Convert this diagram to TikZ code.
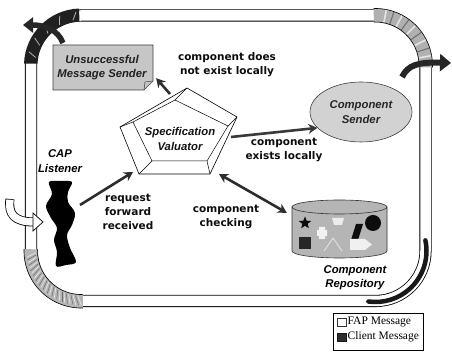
\documentclass[tikz,border=0pt]{standalone}
\usepackage{fontspec}
\setmainfont{Liberation Sans}
\newfontfamily\lblfont{DejaVu Sans}
\newfontfamily\legfont{Liberation Serif}
\usetikzlibrary{arrows.meta,shapes.geometric,shapes.symbols,calc}

\tikzset{
  flow/.style={draw=gray!35!black, line width=2.6pt, -{Stealth[length=9pt,width=10pt]}},
  twoway/.style={draw=gray!35!black, line width=2.6pt, {Stealth[length=9pt,width=10pt]}-{Stealth[length=9pt,width=10pt]}},
  lbl/.style={font=\lblfont\bfseries\fontsize{10.5}{14}\selectfont, text=gray!10!black, align=center, inner sep=0pt},
  comptext/.style={font=\bfseries\itshape\fontsize{11.3}{14.5}\selectfont, align=center, inner sep=0pt},
  bandedge/.style={draw=black, line width=0.6pt},
  legtext/.style={font=\legfont\fontsize{11.5}{12}\selectfont, anchor=west, inner sep=0pt},
}

\begin{document}
\begin{tikzpicture}[x=1pt,y=1pt]
\useasboundingbox (0,0) rectangle (452,352);
\fill[white] (0,0) rectangle (452,352);

% double-lined frame, corners of radius 50 round the four corner centres
\draw[line width=0.8pt, double=white, double distance=10.5pt]
  (81,336.5) -- (375.5,336.5) arc[start angle=90,end angle=0,radius=50]
  -- (425.5,101) arc[start angle=0,end angle=-90,radius=50]
  -- (81,51) arc[start angle=270,end angle=180,radius=50]
  -- (31,286.5) arc[start angle=180,end angle=90,radius=50] -- cycle;

% top-right corner band (striped)
\fill[gray!62] (375.5,286.5) ++(92:57) arc[start angle=92,end angle=-2,radius=57]
  -- ++(180:13.5) arc[start angle=-2,end angle=92,radius=43.5] -- cycle;
\foreach \a in {10,27,45,62,79}
  \draw[gray!20, line width=1.6pt] (375.5,286.5) ++(\a:44) -- ++(\a:12.5);
\foreach \a in {18,36,54,71}
  \draw[gray!85!black, line width=1pt] (375.5,286.5) ++(\a:44) -- ++(\a:12.5);
\draw[bandedge] (375.5,286.5) ++(92:57) arc[start angle=92,end angle=-2,radius=57];
\draw[bandedge] (375.5,286.5) ++(92:43.5) arc[start angle=92,end angle=-2,radius=43.5];

% bottom-left corner band (hatched)
\fill[gray!58] (81,101) ++(178:57) arc[start angle=178,end angle=272,radius=57]
  -- ++(90:13.5) arc[start angle=272,end angle=178,radius=43.5] -- cycle;
\foreach \a in {182,188,...,268}
  \draw[gray!20, line width=0.7pt] (81,101) ++(\a:45) -- ++(\a+25:10);
\foreach \a in {185,191,...,268}
  \draw[gray!85!black, line width=0.5pt] (81,101) ++(\a:45) -- ++(\a+25:10);
\draw[bandedge] (81,101) ++(178:57) arc[start angle=178,end angle=272,radius=57];
\draw[bandedge] (81,101) ++(178:43.5) arc[start angle=178,end angle=272,radius=43.5];

% top-left corner ribbon (dark)
\fill[gray!25!black] (81,286.5) ++(92:57) arc[start angle=92,end angle=178,radius=57]
  -- ++(0:13.5) arc[start angle=178,end angle=92,radius=43.5] -- cycle;
\foreach \a in {100,118,136,154,170}
  \draw[gray!60, line width=0.8pt] (81,286.5) ++(\a:46) -- ++(\a-30:9);

% bottom-right corner ribbon (dark, thin)
\draw[gray!20!black, line width=4.5pt, line cap=round]
  (375.5,101) ++(12:51) arc[start angle=12,end angle=-98,radius=51];

% outgoing arrows at the corners
\draw[draw=gray!30!black, line width=5.5pt, -{Triangle[length=10pt,width=15pt]}]
  (63,309) .. controls (58,322) and (45,327) .. (23,327);
\draw[draw=gray!30!black, line width=6pt, -{Triangle[length=11pt,width=17pt]}]
  (402,275) .. controls (408,287) and (418,290) .. (451,289);

% incoming white arrow on the left
\draw[black, line width=9pt] (10,153) .. controls (8,138) and (14,130) .. (34,130);
\draw[white, line width=7.4pt] (10,152.3) .. controls (8,138) and (14,130) .. (34.5,130);
\filldraw[fill=white, draw=black, line width=0.7pt] (33,139) -- (43,130) -- (33,121) -- cycle;

% CAP listener
\fill[black] plot[smooth cycle, tension=0.55] coordinates {
  (49,170) (61,171) (72,170) (68,160) (68,150) (75,139) (72,127) (67,117) (70,104) (76,90)
  (66,87) (56,86) (57,100) (54,112) (57,124) (51,134) (46,146) (52,158)};
\coordinate (cap) at (80,147);
\node[comptext, text=black] (caplbl) at (60,191) {CAP\\Listener};

% unsuccessful message sender (note with folded corner)
\filldraw[fill=gray!45, draw=gray!50!black, line width=0.6pt]
  (53,262) -- (53,307) -- (153,307) -- (153,271) -- (144,262) -- cycle;
\draw[gray!50!black, line width=0.5pt] (153,271) -- (145,270) -- (144,262);
\node[comptext, text=gray!25!black, minimum width=100pt, minimum height=45pt] (uns) at (102,284.5)
  {Unsuccessful\\Message Sender};

% specification valuator (pentagonal prism)
\coordinate (p1) at (187,264);
\coordinate (p2) at (237,235);
\coordinate (p3) at (210,178);
\coordinate (p4) at (139,178);
\coordinate (p5) at (120,225);
\coordinate (q1) at (175,252);
\coordinate (q2) at (228,226);
\coordinate (q3) at (207,191);
\coordinate (q4) at (152,191);
\coordinate (q5) at (133,230);
\filldraw[fill=white, draw=black, line width=0.6pt] (p1) -- (p2) -- (p3) -- (p4) -- (p5) -- cycle;
\draw[black, line width=0.5pt] (q1) -- (q2) -- (q3) -- (q4) -- (q5) -- cycle;
\draw[black, line width=0.5pt] (p1) -- (q1) (p2) -- (q2) (p3) -- (q3) (p4) -- (q4) (p5) -- (q5);
\node[comptext, text=gray!15!black] (spec) at (180,213) {Specification\\Valuator};

% component sender
\node[ellipse, draw=gray!50!black, line width=0.6pt, fill=gray!35, minimum width=102pt,
  minimum height=60pt, comptext, text=gray!30!black] (snd) at (361,240) {Component\\Sender};

% component repository (cylinder with stored components)
\fill[gray!58] (292,145) -- (292,101) arc[start angle=180,end angle=360,x radius=47.5,y radius=7]
  -- (387,145) arc[start angle=0,end angle=180,x radius=47.5,y radius=7] -- cycle;
\draw[gray!40!black, line width=0.6pt] (292,145) -- (292,101)
  arc[start angle=180,end angle=360,x radius=47.5,y radius=7] -- (387,145);
\draw[gray!40!black, line width=0.6pt] (339.5,145) ellipse[x radius=47.5, y radius=7];
\node[minimum width=95pt, minimum height=58pt, inner sep=0pt] (repo) at (339.5,123) {};
\node[star, star points=5, star point ratio=2.3, fill=gray!10!black, minimum size=13pt, inner sep=0pt] at (305,129) {};
\fill[gray!10] (317,116) rectangle (327,122) (319,113) rectangle (325,125);
\fill[gray!15] (332,134) -- (344,134) -- (342,127) -- (334,127) -- cycle;
\fill[gray!10!black] (351,112) -- (358,112) -- (363,128) -- (356,128) -- cycle;
\fill[gray!10!black] (373,129) circle[radius=8];
\fill[gray!30!black] (299,103) rectangle (311,115);
\draw[gray!20, line width=0.8pt] (324,101) -- (333,114) -- (342,101);
\fill[gray!12] (350,102) -- (365,102) -- (372,107.5) -- (365,113) -- (350,113) -- cycle;
\node[comptext, text=black] (repolbl) at (355,74.5) {Component\\Repository};

% message flows
\coordinate (a1s) at (170,258);
\coordinate (a1e) at ($(uns.south east)+(4,12)$);
\coordinate (a2s) at (231,215);
\coordinate (a3e) at (133,180);
\coordinate (a4s) at (219,178);
\coordinate (a4e) at ($(repo.north west)+(-5,-13)$);
\draw[flow] (a1s) -- (a1e);
\draw[flow, draw=gray!45!black] (a2s) -- (snd.200);
\draw[flow] (cap) -- (a3e);
\draw[twoway] (a4s) -- (a4e);

% flow labels
\node[lbl] (l1) at (227,287) {component does\\not exist locally};
\node[lbl] (l2) at (284,202) {component\\exists locally};
\node[lbl] (l3) at (128,140) {request\\forward\\received};
\node[lbl] (l4) at (226,135.5) {component\\checking};

% legend
\node[draw, line width=0.6pt, minimum width=90pt, minimum height=37pt, inner sep=0pt] (leg) at (378,20.5) {};
\filldraw[fill=white, draw=gray!40!black, line width=0.5pt] (337,26) rectangle (346,34);
\filldraw[fill=gray!35!black, draw=gray!20!black, line width=0.5pt] (337,11) rectangle (346,19);
\node[legtext] (f1) at (347.5,30) {FAP Message};
\node[legtext] (f2) at (347.5,15) {Client Message};
\end{tikzpicture}
\end{document}
